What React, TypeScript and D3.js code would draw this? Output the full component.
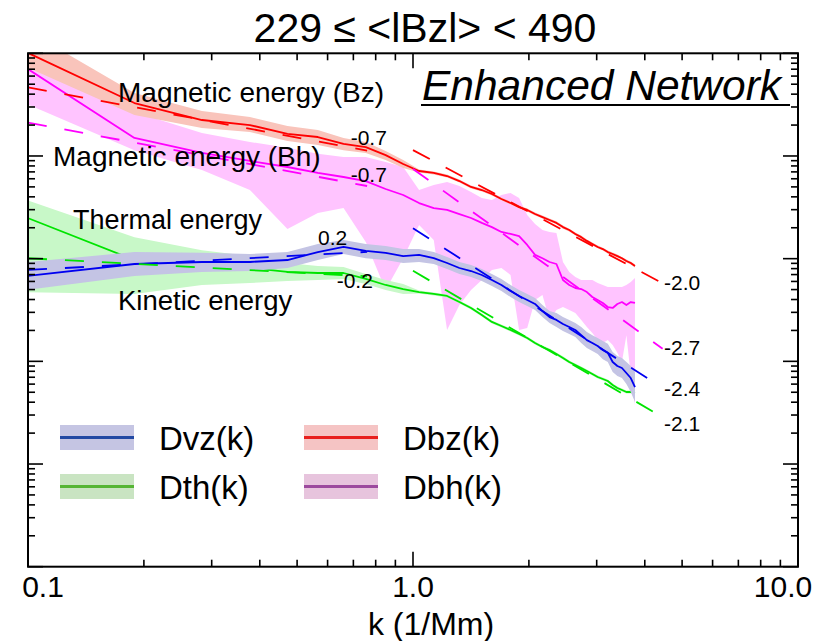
import React from "react";
import * as d3 from "d3";

// wavenumbers (1/Mm)
const kValues = [0.094, 0.189, 0.283, 0.377, 0.472, 0.566, 0.660, 0.754, 0.849, 0.943,
  1.037, 1.132, 1.226, 1.320, 1.415, 1.509, 1.603, 1.697, 1.792, 1.886,
  1.980, 2.075, 2.169, 2.263, 2.358, 2.452, 2.546, 2.640, 2.735, 2.829,
  2.923, 3.018, 3.112, 3.206, 3.301, 3.395, 3.489, 3.583, 3.678, 3.772];

// Dvz(k) kinetic energy
const dvzMean = [0.663, 0.887, 0.928, 0.928, 0.970, 1.16, 1.30, 1.19, 1.14, 1.06,
  1.09, 1.01, 0.907, 0.811, 0.758, 0.693, 0.620, 0.554, 0.484, 0.433,
  0.396, 0.362, 0.309, 0.270, 0.253, 0.231, 0.216, 0.202, 0.180, 0.161,
  0.151, 0.141, 0.129, 0.121, 0.0986, 0.0901, 0.0861, 0.0770, 0.0688, 0.0562];
const dvzHigh = [0.907, 1.16, 1.14, 1.11, 1.16, 1.39, 1.52, 1.39, 1.33, 1.24,
  1.24, 1.16, 1.04, 0.928, 0.868, 0.793, 0.709, 0.634, 0.554, 0.495,
  0.453, 0.414, 0.354, 0.309, 0.296, 0.270, 0.253, 0.236, 0.216, 0.193,
  0.180, 0.169, 0.158, 0.148, 0.123, 0.113, 0.108, 0.0986, 0.0901, 0.0787];
const dvzLow = [0.484, 0.678, 0.742, 0.758, 0.811, 0.970, 1.11, 1.01, 0.970, 0.907,
  0.928, 0.887, 0.793, 0.709, 0.663, 0.606, 0.542, 0.484, 0.423, 0.378,
  0.346, 0.316, 0.270, 0.236, 0.216, 0.197, 0.185, 0.173, 0.151, 0.135,
  0.126, 0.118, 0.105, 0.0986, 0.0787, 0.0720, 0.0688, 0.0602, 0.0503, 0.0402];

// Dth(k) thermal energy
const dthMean = [2.72, 0.970, 0.848, 0.811, 0.742, 0.725, 0.725, 0.634, 0.554, 0.506,
  0.473, 0.453, 0.433, 0.378, 0.331, 0.283, 0.242, 0.221, 0.202, 0.185,
  0.169, 0.151, 0.138, 0.129, 0.118, 0.108, 0.0986, 0.0921, 0.0861, 0.0805,
  0.0753, 0.0704, 0.0673, 0.0643, 0.0588, 0.0550, 0.0526, 0.0503, 0.0503, 0.0492];
const dthHigh = [3.99, 1.62, 1.21, 1.06, 0.907, 0.848, 0.829, 0.709, 0.620, 0.567,
  0.489, 0.468, 0.448, 0.391, 0.342, 0.293, 0.250, 0.229, 0.209, 0.191,
  0.175, 0.156, 0.143, 0.133, 0.122, 0.112, 0.102, 0.0952, 0.0890, 0.0832,
  0.0779, 0.0728, 0.0696, 0.0665, 0.0608, 0.0569, 0.0544, 0.0520, 0.0520, 0.0509];
const dthLow = [0.473, 0.453, 0.554, 0.579, 0.606, 0.620, 0.634, 0.567, 0.495, 0.453,
  0.457, 0.438, 0.419, 0.366, 0.320, 0.274, 0.234, 0.214, 0.195, 0.179,
  0.163, 0.146, 0.133, 0.125, 0.114, 0.104, 0.0954, 0.0891, 0.0833, 0.0779,
  0.0728, 0.0681, 0.0651, 0.0622, 0.0569, 0.0532, 0.0509, 0.0486, 0.0486, 0.0476];

// Dbz(k) magnetic energy (Bz)
const dbzMean = [112.6, 32.8, 22.4, 20.0, 16.4, 15.3, 13.1, 12.2, 10.2, 8.35,
  7.14, 6.83, 6.38, 5.70, 4.99, 4.66, 4.26, 3.81, 3.48, 3.18,
  2.98, 2.72, 2.54, 2.38, 2.23, 2.03, 1.90, 1.74, 1.62, 1.49,
  1.39, 1.30, 1.24, 1.16, 1.11, 1.06, 1.01, 0.949, 0.907, 0.848];
const dbzHigh = [188.6, 41.0, 27.4, 24.0, 19.6, 17.9, 15.0, 13.7, 11.2, 9.14,
  7.38, 7.06, 6.60, 5.89, 5.16, 4.82, 4.40, 3.94, 3.60, 3.29,
  3.08, 2.81, 2.63, 2.46, 2.31, 2.10, 1.96, 1.80, 1.68, 1.54,
  1.44, 1.34, 1.28, 1.20, 1.15, 1.10, 1.04, 0.981, 0.938, 0.877];
const dbzLow = [80.4, 25.1, 18.7, 17.1, 14.0, 12.8, 11.4, 10.7, 9.14, 7.64,
  6.91, 6.61, 6.17, 5.51, 4.83, 4.51, 4.12, 3.68, 3.37, 3.08,
  2.88, 2.63, 2.46, 2.30, 2.16, 1.96, 1.84, 1.68, 1.57, 1.44,
  1.34, 1.26, 1.20, 1.12, 1.07, 1.03, 0.977, 0.918, 0.877, 0.820];

// Dbh(k) magnetic energy (Bh)
const dbhMean = [81.4, 15.0, 10.7, 8.94, 7.81, 6.83, 6.24, 5.70, 4.77, 4.17,
  3.48, 3.11, 2.98, 2.72, 2.49, 2.23, 2.03, 1.82, 1.74, 1.66,
  1.36, 1.09, 1.01, 0.928, 0.887, 0.620, 0.554, 0.518, 0.506, 0.473,
  0.423, 0.396, 0.370, 0.338, 0.331, 0.362, 0.378, 0.354, 0.378, 0.370];
const dbhHigh = [86.0, 26.8, 16.7, 13.7, 12.0, 10.5, 9.77, 9.77, 8.74, 7.81,
  4.66, 5.22, 5.58, 5.10, 4.46, 3.90, 3.73, 4.17, 4.36, 3.90,
  2.66, 2.18, 1.90, 1.82, 1.78, 0.928, 0.742, 0.663, 0.620, 0.620,
  0.620, 0.579, 0.554, 0.530, 0.530, 0.530, 0.530, 0.554, 0.592, 0.648];
const dbhLow = [35.1, 11.4, 7.30, 4.66, 1.95, 2.78, 3.11, 1.45, 0.495, 1.01,
  2.13, 1.52, 0.202, 0.354, 0.495, 0.620, 0.775, 0.811, 0.693, 0.202,
  0.211, 0.396, 0.443, 0.253, 0.316, 0.338, 0.316, 0.296, 0.253, 0.216,
  0.189, 0.161, 0.151, 0.161, 0.144, 0.121, 0.0986, 0.180, 0.0736, 0.0376];

// power-law fits, order: Dbz, Dbh, Dvz, Dth
const lowFitSlopes = [-0.7, -0.7, 0.2, -0.2];
const lowFitAmps = [9.30, 4.21, 1.23, 0.637];
const lowFitRange = [0.1, 0.76];
const lowFitLabels = ["-0.7", "-0.7", "0.2", "-0.2"];
const highFitSlopes = [-2.0, -2.7, -2.4, -2.2];
const highFitAmps = [11.4, 7.47, 1.98, 0.762];
const highFitStart = 1.0;
const highFitEnds = [4.5, 4.45, 4.25, 4.45];
const highFitLabels = ["-2.0", "-2.7", "-2.4", "-2.1"];

const xTickValues = [0.1, 1, 10];
const xTickLabels = ["0.1", "1.0", "10.0"];

const legendNames = ["Dvz(k)", "Dbz(k)", "Dth(k)", "Dbh(k)"];

const FONT = "'Liberation Sans', Arial, Helvetica, sans-serif";

export default function App() {
  const L = 28, R = 798, T = 53.3, B = 566.7;
  const x = d3.scaleLog().domain([0.1, 10]).range([L, R]);
  const y = d3.scaleLog().domain([1e-3, 1e2]).range([B, T]);

  const series = [
    { mean: dbhMean, hi: dbhHigh, lo: dbhLow, line: "#ff00ff", band: "#ffc4ff" },
    { mean: dbzMean, hi: dbzHigh, lo: dbzLow, line: "#ff0000", band: "#f9c4bb" },
    { mean: dthMean, hi: dthHigh, lo: dthLow, line: "#00e400", band: "#c8f8c8" },
    { mean: dvzMean, hi: dvzHigh, lo: dvzLow, line: "#0000f0", band: "#c4c4e4" },
  ];
  const fitColors = ["#ff0000", "#ff00ff", "#0000f0", "#00e400"];

  const areaPath = (lo: number[], hi: number[]) =>
    d3.area<number>()
      .x((_, i) => x(kValues[i]))
      .y0((_, i) => y(lo[i]))
      .y1((_, i) => y(hi[i]))(kValues) || "";
  const linePath = (v: number[]) =>
    d3.line<number>().x((_, i) => x(kValues[i])).y((_, i) => y(v[i]))(kValues) || "";

  const fitLine = (amp: number, slope: number, k0: number, k1: number) =>
    d3.line<number>().x((k) => x(k)).y((k) => y(amp * Math.pow(k, slope)))([k0, k1]) || "";

  const xt = x.ticks();
  const yt = y.ticks();
  const isMajor = (t: number) => Math.abs(Math.log10(t) - Math.round(Math.log10(t))) < 1e-6;

  const lowLabelPos = [[350.7, 145], [350.7, 181.7], [318, 245], [336.7, 288.3]];
  const highLabelY = [290, 355, 396, 430.7];

  const legendItems = [
    { fill: "#c5c5e3", line: "#2249a3", lx: 60, ly: 425 },
    { fill: "#f5c4c4", line: "#e8201e", lx: 304, ly: 425 },
    { fill: "#c9e4c2", line: "#55b534", lx: 60, ly: 474 },
    { fill: "#e7c4dd", line: "#9c4a9e", lx: 304, ly: 474 },
  ];

  return (
    <svg width={828} height={641} style={{ position: "absolute", left: 0, top: 0, background: "#fff" }}
      fontFamily={FONT}>
      <defs>
        <clipPath id="plotclip">
          <rect x={L} y={T} width={R - L} height={B - T} />
        </clipPath>
      </defs>
      <rect x={0} y={0} width={828} height={641} fill="#fff" />
      <g clipPath="url(#plotclip)">
        {series.map((s, i) => (
          <g key={i}>
            <path d={areaPath(s.lo, s.hi)} fill={s.band} stroke="none" />
            <path d={linePath(s.mean)} fill="none" stroke={s.line} strokeWidth={1.8} strokeLinejoin="round" />
          </g>
        ))}
        {lowFitSlopes.map((s, i) => (
          <path key={"lf" + i} d={fitLine(lowFitAmps[i], s, lowFitRange[0], lowFitRange[1])}
            fill="none" stroke={fitColors[i]} strokeWidth={1.8} strokeDasharray="19 18" />
        ))}
        {highFitSlopes.map((s, i) => (
          <path key={"hf" + i} d={fitLine(highFitAmps[i], s, highFitStart, highFitEnds[i])}
            fill="none" stroke={fitColors[i]} strokeWidth={1.8} strokeDasharray="19 18" />
        ))}
      </g>

      {/* frame and ticks */}
      <rect x={L} y={T} width={R - L} height={B - T} fill="none" stroke="#000" strokeWidth={2} />
      {xt.map((t, i) => {
        const len = isMajor(t) ? 15 : 7;
        const px = x(t);
        return (
          <g key={"xt" + i} stroke="#000" strokeWidth={1.6}>
            <line x1={px} x2={px} y1={B} y2={B - len} />
            <line x1={px} x2={px} y1={T} y2={T + len} />
          </g>
        );
      })}
      {yt.map((t, i) => {
        const len = isMajor(t) ? 15 : 7;
        const py = y(t);
        return (
          <g key={"yt" + i} stroke="#000" strokeWidth={1.6}>
            <line x1={L} x2={L + len} y1={py} y2={py} />
            <line x1={R} x2={R - len} y1={py} y2={py} />
          </g>
        );
      })}
      {xTickValues.map((t, i) => (
        <text key={"xl" + i} x={Math.min(Math.max(x(t), L + 15), R - 15)} y={597} fontSize={30}
          textAnchor="middle" fill="#000">{xTickLabels[i]}</text>
      ))}
      <text x={431} y={635} fontSize={32} textAnchor="middle" fill="#000">k (1/Mm)</text>

      {/* title */}
      <text x={425} y={41.7} fontSize={41} textAnchor="middle" fill="#000">229 ≤ &lt;lBzl&gt; &lt; 490</text>

      {/* panel label */}
      <text x={422} y={100} fontSize={42.5} fontStyle="italic" fill="#000">Enhanced Network</text>
      <line x1={421} x2={790} y1={105} y2={105} stroke="#000" strokeWidth={2.2} />

      {/* annotations */}
      <text x={118} y={101.5} fontSize={28} fill="#000">Magnetic energy (Bz)</text>
      <text x={53} y={165.7} fontSize={28} fill="#000">Magnetic energy (Bh)</text>
      <text x={73} y={229.3} fontSize={27} fill="#000">Thermal energy</text>
      <text x={118} y={309.5} fontSize={27.5} fill="#000">Kinetic energy</text>

      {lowFitLabels.map((lab, i) => (
        <text key={"ll" + i} x={lowLabelPos[i][0]} y={lowLabelPos[i][1]} fontSize={21} fill="#000">{lab}</text>
      ))}
      {highFitLabels.map((lab, i) => (
        <text key={"hl" + i} x={664} y={highLabelY[i]} fontSize={21} fill="#000">{lab}</text>
      ))}

      {/* legend */}
      {legendItems.map((it, i) => (
        <g key={"lg" + i}>
          <rect x={it.lx} y={it.ly} width={74} height={25} fill={it.fill} />
          <line x1={it.lx} x2={it.lx + 74} y1={it.ly + 12.5} y2={it.ly + 12.5} stroke={it.line} strokeWidth={3} />
          <text x={it.lx + 99} y={it.ly + 25} fontSize={33} fill="#000">{legendNames[i]}</text>
        </g>
      ))}
    </svg>
  );
}
